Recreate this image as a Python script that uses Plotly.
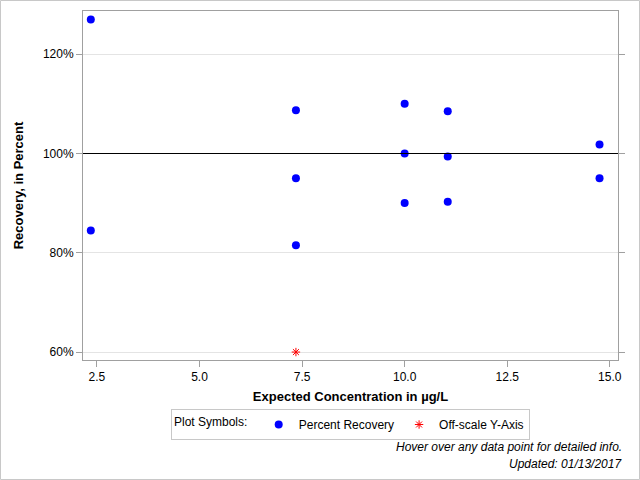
import plotly.graph_objects as go

# Data
conc = [2.35, 2.35, 7.35, 7.35, 7.35, 10.0, 10.0, 10.0, 11.05, 11.05, 11.05, 14.75, 14.75]
recovery = [127.0, 84.5, 108.7, 95.0, 81.5, 110.0, 100.0, 90.0, 108.5, 99.4, 90.3, 101.8, 95.0]
off_conc = [7.35]
off_recovery = [60.0]
x_ticks = [2.5, 5.0, 7.5, 10.0, 12.5, 15.0]
y_ticks = [60, 80, 100, 120]
y_tick_labels = [f"{v}%" for v in y_ticks]

W, H = 640, 480
L, R, T, B = 83, 22, 11, 120
pw, ph = W - L - R, H - T - B

font = "Liberation Sans, Arial, sans-serif"

fig = go.Figure()
fig.add_trace(go.Scatter(
    x=conc, y=recovery, mode="markers", name="Percent Recovery",
    marker=dict(color="#0000ff", size=8, symbol="circle"),
))
fig.add_trace(go.Scatter(
    x=off_conc, y=off_recovery, mode="markers", name="Off-scale Y-Axis",
    marker=dict(color="#ff0000", size=7, symbol="asterisk-open", line=dict(color="#ff0000", width=1)),
))

fig.update_layout(
    width=W, height=H,
    margin=dict(l=L, r=R, t=T, b=B),
    paper_bgcolor="white", plot_bgcolor="white",
    font=dict(family=font, size=12, color="black"),
    showlegend=True,
    legend=dict(
        orientation="h", x=0.5, xanchor="center", y=-(409 - T - ph) / ph, yanchor="top",
        title=dict(text="Plot Symbols: ", font=dict(size=12), side="left"),
        bordercolor="#c8c8c8", borderwidth=1,
        font=dict(size=12), valign="middle",
        tracegroupgap=0, itemwidth=30,
    ),
    xaxis=dict(
        range=[2.16, 15.2], tickvals=x_ticks, tickformat=".1f",
        showgrid=False, zeroline=False,
        showline=True, linecolor="#a0a0a0", linewidth=1, mirror=True,
        ticks="outside", ticklen=6, tickcolor="#a0a0a0",
        title=dict(text="<b>Expected Concentration in µg/L</b>", font=dict(size=13), standoff=8),
    ),
    yaxis=dict(
        range=[58.4, 128.7], tickvals=y_ticks, ticktext=y_tick_labels,
        showgrid=True, gridcolor="#e4e4e4", zeroline=False,
        showline=True, linecolor="#a0a0a0", linewidth=1, mirror="ticks",
        ticks="outside", ticklen=6, tickcolor="#a0a0a0",
        title=dict(text="<b>Recovery, in Percent</b>", font=dict(size=13), standoff=16),
    ),
    shapes=[
        dict(type="line", xref="paper", yref="y", x0=0, x1=1, y0=100, y1=100,
             line=dict(color="black", width=1.2), layer="above"),
        dict(type="rect", xref="paper", yref="paper",
             x0=-(L - 0.5) / pw, x1=1 + (R - 0.5) / pw,
             y0=-(B - 0.5) / ph, y1=1 + (T - 0.5) / ph,
             line=dict(color="#c8c8c8", width=1)),
    ],
    annotations=[
        dict(text="<i>Hover over any data point for detailed info.</i>", xref="paper", yref="paper",
             x=1 + (R - 16) / pw, y=-(447 - T - ph) / ph, xanchor="right", yanchor="middle",
             showarrow=False, font=dict(size=12)),
        dict(text="<i>Updated: 01/13/2017</i>", xref="paper", yref="paper",
             x=1 + (R - 16) / pw, y=-(464 - T - ph) / ph, xanchor="right", yanchor="middle",
             showarrow=False, font=dict(size=12)),
    ],
)

fig.write_html("out.html")
